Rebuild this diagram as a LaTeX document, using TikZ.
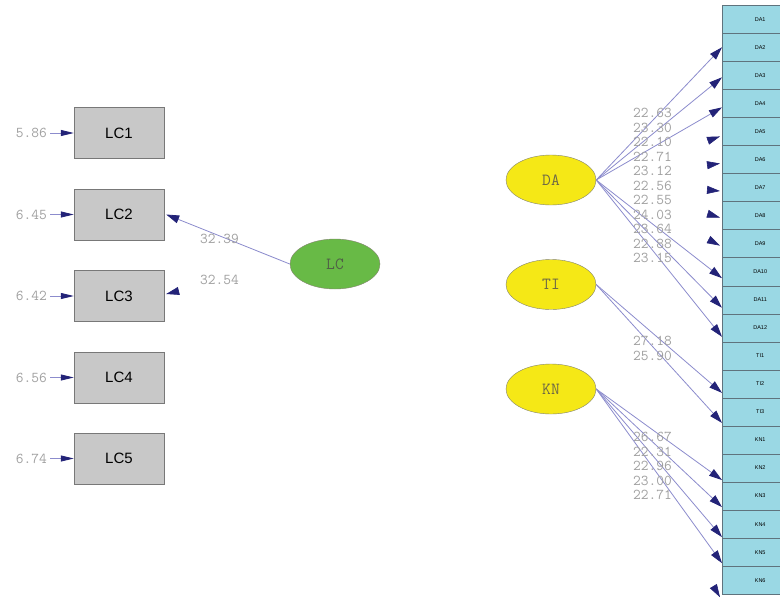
\documentclass[tikz,border=0pt]{standalone}
\usepackage{fontspec}
\setmainfont{Liberation Sans}
\newfontfamily\monof{Latin Modern Mono}
\usetikzlibrary{shapes.geometric,arrows.meta,calc}
\definecolor{lcfill}{RGB}{200,200,200}
\definecolor{boxedge}{RGB}{120,120,120}
\definecolor{itemfill}{RGB}{154,216,228}
\definecolor{itemedge}{RGB}{95,115,125}
\definecolor{yellowfill}{RGB}{245,232,22}
\definecolor{greenfill}{RGB}{104,186,70}
\definecolor{ellipseedge}{RGB}{130,130,110}
\definecolor{latenttext}{RGB}{110,105,70}
\definecolor{pathline}{RGB}{140,140,205}
\definecolor{tipcol}{RGB}{35,35,120}
\definecolor{tgray}{RGB}{160,160,160}
\begin{document}
\begin{tikzpicture}[x=1pt,y=-1pt,
  lcbox/.style={draw=boxedge, fill=lcfill, minimum width=90pt, minimum height=51pt, inner sep=0pt, font=\fontsize{15}{15}\selectfont},
  itembox/.style={draw=itemedge, fill=itemfill, minimum width=76pt, minimum height=28.05pt, inner sep=0pt, anchor=north west, font=\fontsize{5.5}{6}\selectfont},
  latent/.style={ellipse, draw=ellipseedge, minimum width=90pt, minimum height=50pt, inner sep=0pt, font=\monof\fontsize{17}{17}\selectfont, text=latenttext},
  tval/.style={font=\monof\fontsize{15}{15}\selectfont, text=tgray, inner sep=0pt, anchor=west},
  errlab/.style={font=\monof\fontsize{15}{15}\selectfont, text=tgray, inner sep=0pt, anchor=east},
  loadarrow/.style={draw=pathline, line width=0.8pt, -{Triangle[length=13pt,width=8pt,color=tipcol]}},
  errarrow/.style={draw=pathline, line width=0.8pt, shorten <=3pt, -{Triangle[length=13pt,width=6pt,color=tipcol]}},
  stubarrow/.style={draw=tipcol, line width=0.6pt, -{Triangle[length=13pt,width=8pt,color=tipcol]}}
]
\useasboundingbox (0,0) rectangle (780,598);
\fill[white] (0,0) rectangle (780,598);

% left observed variables
\node[lcbox] (LC1) at (119,133) {LC1};
\node[lcbox] (LC2) at (119,214.5) {LC2};
\node[lcbox] (LC3) at (119,296) {LC3};
\node[lcbox] (LC4) at (119,377.5) {LC4};
\node[lcbox] (LC5) at (119,458.5) {LC5};

\node[errlab] (e1) at (47,133) {5.86};
\node[errlab] (e2) at (47,214.5) {6.45};
\node[errlab] (e3) at (47,296) {6.42};
\node[errlab] (e4) at (47,377.5) {6.56};
\node[errlab] (e5) at (47,458.5) {6.74};
\draw[errarrow] (e1.east) -- (LC1.west);
\draw[errarrow] (e2.east) -- (LC2.west);
\draw[errarrow] (e3.east) -- (LC3.west);
\draw[errarrow] (e4.east) -- (LC4.west);
\draw[errarrow] (e5.east) -- (LC5.west);

% LC latent
\node[latent, fill=greenfill, text={rgb,255:red,80;green,95;blue,70}] (LCe) at (335,264) {LC};
\draw[loadarrow] (LCe.west) -- ([xshift=2pt]LC2.east);
\coordinate (lc3tip) at ([xshift=2pt,yshift=2pt]LC3.east);
\draw[stubarrow] ($(LCe.west)!0.97!(lc3tip)$) -- (lc3tip);
\node[tval] (t32a) at (200,239) {32.39};
\node[tval] (t32b) at (200,279.5) {32.54};

% right latent
\node[latent, fill=yellowfill] (DAe) at (551,180) {DA};
\node[latent, fill=yellowfill] (TIe) at (551,284.5) {TI};
\node[latent, fill=yellowfill] (KNe) at (551,389) {KN};

% right indicator column
\begin{scope}
\clip (0,0) rectangle (780,598);
\foreach \lab [count=\k from 0] in {DA1,DA2,DA3,DA4,DA5,DA6,DA7,DA8,DA9,DA10,DA11,DA12,TI1,TI2,TI3,KN1,KN2,KN3,KN4,KN5,KN6}
  \node[itembox] (\lab) at (722,{5+28.05*\k}) {\lab};
\end{scope}

% DA loadings
\draw[loadarrow] (DAe.east) -- ([yshift=0pt]DA2.west);
\draw[loadarrow] (DAe.east) -- ([yshift=-2pt]DA3.west);
\draw[loadarrow] (DAe.east) -- ([yshift=-4pt]DA4.west);
\draw[loadarrow] (DAe.east) -- ([yshift=-6.5pt]DA10.west);
\draw[loadarrow] (DAe.east) -- ([yshift=-8pt]DA11.west);
\draw[loadarrow] (DAe.east) -- ([yshift=-9pt]DA12.west);
% DA stubs (arrowheads only)
\coordinate (s5) at ([xshift=-2pt,yshift=-5pt]DA5.west);
\coordinate (s6) at ([xshift=-2pt,yshift=-4pt]DA6.west);
\coordinate (s7) at ([xshift=-2pt,yshift=-3.5pt]DA7.west);
\coordinate (s8) at ([xshift=-2pt,yshift=-2pt]DA8.west);
\coordinate (s9) at ([xshift=-2pt,yshift=-2pt]DA9.west);
\foreach \s in {s5,s6,s7,s8,s9}
  \draw[stubarrow] ($(DAe.east)!0.97!(\s)$) -- (\s);

% TI loadings
\draw[loadarrow] (TIe.east) -- ([yshift=-9pt]TI2.west);
\draw[loadarrow] (TIe.east) -- ([yshift=-11pt]TI3.west);

% KN loadings
\draw[loadarrow] (KNe.east) -- ([yshift=-12pt]KN2.west);
\draw[loadarrow] (KNe.east) -- ([yshift=-11pt]KN3.west);
\draw[loadarrow] (KNe.east) -- ([yshift=-13pt]KN4.west);
\draw[loadarrow] (KNe.east) -- ([yshift=-11pt]KN5.west);
\coordinate (s26) at ([xshift=-2pt,yshift=-17pt]KN6.west);
\draw[stubarrow] ($(KNe.east)!0.97!(s26)$) -- (s26);

% t-values DA
\foreach \v [count=\k from 0] in {22.63,23.30,22.10,22.71,23.12,22.56,22.55,24.03,23.64,22.88,23.15}
  \node[tval] (tDA\k) at (633,{113+14.5*\k}) {\v};
% t-values TI
\node[tval] (tTI1) at (633,341) {27.18};
\node[tval] (tTI2) at (633,355.5) {25.90};
% t-values KN
\foreach \v [count=\k from 0] in {26.67,22.31,22.96,23.00,22.71}
  \node[tval] (tKN\k) at (633,{437+14.5*\k}) {\v};
\end{tikzpicture}
\end{document}
